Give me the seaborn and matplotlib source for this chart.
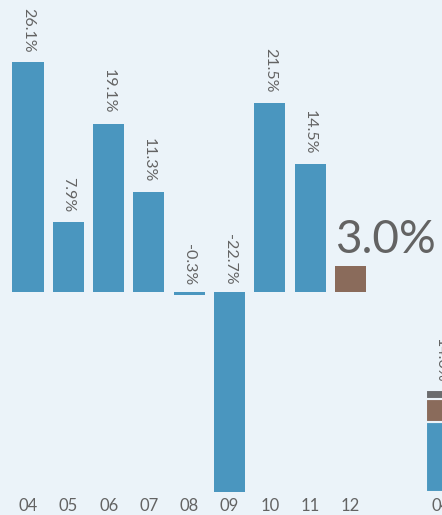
import numpy as np
import seaborn as sns
import matplotlib.pyplot as plt

# yearly change, last year highlighted
years = ["04", "05", "06", "07", "08", "09", "10", "11", "12"]
changes = [26.1, 7.9, 19.1, 11.3, -0.3, -22.7, 21.5, 14.5, 3.0]
highlight = "12"

# start of the next panel (cut off at the right edge)
stack_year = "04"
stack_parts = [8.0, 2.5, 1.1]
stack_colors = ["#4a96bf", "#8a6b5b", "#6b6b6d"]
stack_label = "14.6%"

bg = "#ebf3f9"
blue = "#4a96bf"
brown = "#8a6b5b"
text_grey = "#636363"

sns.set_theme(style="white")
plt.rcParams["font.family"] = ["Lato", "DejaVu Sans"]
plt.rcParams["figure.facecolor"] = bg
plt.rcParams["axes.facecolor"] = bg

fig = plt.figure(figsize=(4.42, 5.15), dpi=100)
base = 23 / 515
ax = fig.add_axes([0, base, 1, 1 - base])

palette = {y: (brown if y == highlight else blue) for y in years}
sns.barplot(x=years, y=changes, hue=years, palette=palette, legend=False,
            saturation=1, width=0.77, linewidth=0, ax=ax)

ax.set_xlim(-0.695, 10.27)
ax.set_ylim(-22.7, 33.14)
ax.set_yticks([])
sns.despine(ax=ax, left=True, bottom=True)
ax.tick_params(axis="x", length=0, pad=4, labelsize=12, labelcolor=text_grey)

for i, (y, v) in enumerate(zip(years, changes)):
    if y == highlight:
        ax.annotate(f"{v:.1f}%", xy=(i - 0.385, v), xytext=(0, 3.5),
                    textcoords="offset points", ha="left", va="bottom",
                    fontsize=33, color=text_grey)
    else:
        top = max(v, 0)
        ax.annotate(f"{v:.1f}%", xy=(i, top), xytext=(0, 7 if v > 0 else 5),
                    textcoords="offset points", ha="center", va="bottom",
                    rotation=270, fontsize=11.5, color=text_grey)

# partial stacked panel
ax2 = fig.add_axes([421 / 442, base, 100 / 442, 1 - base])
ax2.set_facecolor("none")
bottoms = np.concatenate([[0], np.cumsum(stack_parts)[:-1]])
for h, b, c in zip(stack_parts, bottoms, stack_colors):
    ax2.bar(0, h, bottom=b, width=0.77, color=c, edgecolor=bg, linewidth=1.5)
ax2.set_xlim(-0.5, 1.98)
ax2.set_ylim(0, 492 / 8.81)
ax2.set_xticks([0])
ax2.set_xticklabels([stack_year])
ax2.set_yticks([])
sns.despine(ax=ax2, left=True, bottom=True)
ax2.tick_params(axis="x", length=0, pad=4, labelsize=12, labelcolor=text_grey)
ax2.annotate(stack_label, xy=(0, sum(stack_parts)), xytext=(0, 5),
             textcoords="offset points", ha="center", va="bottom", rotation=270,
             fontsize=11.5, color=text_grey)

fig.savefig("out.png", dpi=100, facecolor=bg)
